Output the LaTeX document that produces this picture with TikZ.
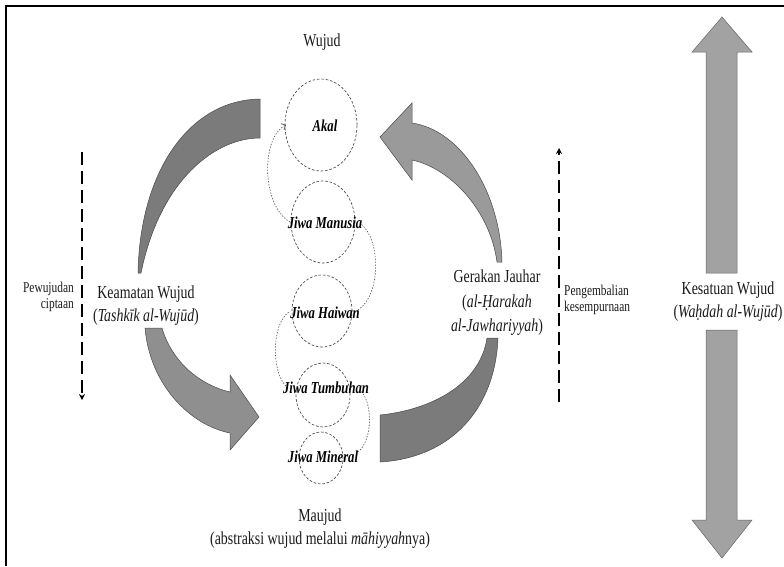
\documentclass[tikz,border=0pt]{standalone}
\usepackage{fontspec}
\setmainfont{Liberation Serif}[FakeStretch=0.76]
\usetikzlibrary{arrows.meta,shapes.geometric}
\definecolor{darkarc}{HTML}{7B7B7B}
\definecolor{lightarc}{HTML}{8F8F8F}
\definecolor{bigarrow}{HTML}{A2A2A2}
\definecolor{edgegray}{HTML}{4A4A4A}
\definecolor{txt}{HTML}{1A1A1A}
\begin{document}
\begin{tikzpicture}[x=1pt,y=-1pt,
  lbl/.style={text=txt, font=\fontsize{18.3}{23}\selectfont, align=center, inner sep=0pt},
  smalllbl/.style={text=txt, font=\fontsize{15}{15.5}\selectfont, inner sep=0pt},
  soul/.style={text=black, font=\fontsize{16.7}{18}\selectfont\bfseries\itshape, inner sep=0pt},
  ring/.style={draw=black!72, dash pattern=on 2.6pt off 1.8pt, line width=0.65pt, ellipse, inner sep=0pt},
  chain/.style={draw=black!68, dash pattern=on 1.4pt off 1.5pt, line width=0.6pt},
  flow/.style={draw=black, line width=1.6pt, dash pattern=on 13pt off 6pt},
  band/.style={draw=edgegray, line width=0.5pt, line join=miter},
]
\useasboundingbox (0,0) rectangle (784,566);
\fill[white] (0,0) rectangle (784,566);
% frame
\draw[line width=2.2pt] (6,566) -- (6,6) -- (784,6);

% ellipses
\node[ring, minimum width=72pt, minimum height=92pt] (e1) at (321,125) {};
\node[ring, minimum width=64pt, minimum height=82pt] (e2) at (323,222) {};
\node[ring, minimum width=60pt, minimum height=72pt] (e3) at (322,311) {};
\node[ring, minimum width=54pt, minimum height=64pt] (e4) at (323,395) {};
\node[ring, minimum width=44pt, minimum height=52pt] (e5) at (321,458) {};

% chain
\coordinate (m1) at (358,452);
\coordinate (tu1) at (360,390);
\coordinate (tu2) at (288,388);
\coordinate (h1) at (289,312);
\coordinate (h2) at (358,310);
\coordinate (ma1) at (361,224);
\coordinate (ma2) at (290,222);
\coordinate (ak1) at (286,125);
\draw[chain] (m1) .. controls (373,440) and (373,402) .. (tu1);
\draw[chain] (tu2) .. controls (271,375) and (271,324) .. (h1);
\draw[chain] (h2) .. controls (381,295) and (381,240) .. (ma1);
\draw[chain, -{Straight Barb[length=3.5pt,width=7pt,line width=0.7pt]}] (ma2) .. controls (261,205) and (261,137) .. (ak1);

% labels in ellipses
\node[soul] (t1) at (325,126) {Akal};
\node[soul] (t2) at (325,223) {Jiwa Manusia};
\node[soul] (t3) at (325,313) {Jiwa Haiwan};
\node[soul] (t4) at (326,388) {Jiwa Tumbuhan};
\node[soul] (t5) at (323,457) {Jiwa Mineral};

% left curved arrow
\path[band, fill=darkarc] (260,99) .. controls (190,100) and (140,170) .. (138,273)
  -- (141,273) .. controls (160,180) and (215,138) .. (260,138) -- cycle;
\path[band, fill=lightarc] (145,328) .. controls (150,385) and (190,425) .. (230,433)
  -- (230,450) -- (259,417) -- (230,375) -- (230,392)
  .. controls (200,385) and (172,362) .. (162,328) -- cycle;

% right curved arrow
\path[band, fill=lightarc!90!white] (502,262) .. controls (500,190) and (460,130) .. (412,123)
  -- (412,103) -- (380,137) -- (412,180) -- (412,160)
  .. controls (450,168) and (490,210) .. (497,262) -- cycle;
\path[band, fill=darkarc] (380,415) .. controls (430,410) and (480,385) .. (487,338)
  -- (498,338) .. controls (495,410) and (450,458) .. (380,462) -- cycle;

% big double arrow
\path[band, fill=bigarrow, draw=black!60] (722,17) -- (752,52) -- (737,52) -- (737,273) -- (706,273) -- (706,52) -- (692,52) -- cycle;
\path[band, fill=bigarrow, draw=black!60] (706,330) -- (737,330) -- (737,520) -- (752,520) -- (722,558) -- (692,520) -- (706,520) -- cycle;

% dashed arrows
\coordinate (pw1) at (82,152);
\coordinate (pw2) at (82,400);
\coordinate (pk1) at (559,402);
\coordinate (pk2) at (559,148);
\draw[flow, -{Stealth[length=6pt,width=6pt]}] (pw1) -- (pw2);
\draw[flow, -{Stealth[length=6pt,width=6pt]}] (pk1) -- (pk2);

% texts
\node[lbl] (wujud) at (322,42) {Wujud};
\node[lbl] (keamatan) at (146,306) {Keamatan Wujud\\(\textit{Tashkīk al-Wujūd})};
\node[lbl] (gerakan) at (497,303) {Gerakan Jauhar\\[1.5pt](\textit{al-Ḥarakah}\\[1.5pt]\textit{al-Jawhariyyah})};
\node[lbl] (kesatuan) at (728,302) {Kesatuan Wujud\\(\textit{Waḥdah al-Wujūd})};
\node[lbl] (maujud) at (320,529) {Maujud\\(abstraksi wujud melalui \textit{māhiyyah}nya)};
\node[smalllbl, anchor=east, align=right] (pewujudan) at (74,297) {Pewujudan\\ciptaan};
\node[smalllbl, anchor=west, align=left] (pengembalian) at (564,300) {Pengembalian\\kesempurnaan};
\end{tikzpicture}
\end{document}
